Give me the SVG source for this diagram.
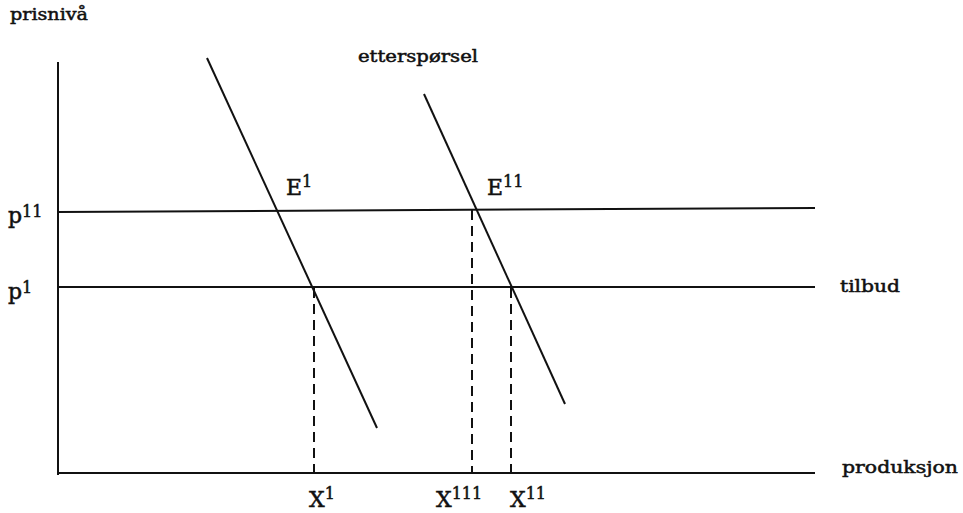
<svg xmlns="http://www.w3.org/2000/svg" width="963" height="513" viewBox="0 0 963 513">
<style>
.ln{stroke:#111;stroke-width:2;fill:none}
.dash{stroke:#111;stroke-width:2;fill:none;stroke-dasharray:10,6}
.t{font-family:"DejaVu Serif","Liberation Serif",serif;fill:#111;stroke:#111;stroke-width:0.5}
.s{font-size:17px}
.b{font-size:22px}
.sup{font-size:16px}
</style>
<rect width="963" height="513" fill="#fff"/>
<g id="connectors">
<line class="ln" x1="58" y1="62" x2="58" y2="475"/>
<line class="ln" x1="58" y1="473" x2="815" y2="473"/>
<line class="ln" x1="58" y1="212" x2="815" y2="208"/>
<line class="ln" x1="58" y1="287" x2="815" y2="287"/>
<line class="ln" x1="207" y1="58" x2="377" y2="428"/>
<line class="ln" x1="424" y1="94" x2="565" y2="404"/>
<line class="dash" x1="314" y1="288" x2="314" y2="473"/>
<line class="dash" x1="472" y1="210" x2="472" y2="473"/>
<line class="dash" x1="511" y1="288" x2="511" y2="473"/>
</g>
<g id="labels">
<text class="t s" x="10" y="20" textLength="78" lengthAdjust="spacingAndGlyphs">prisnivå</text>
<text class="t s" x="358" y="62" textLength="120" lengthAdjust="spacingAndGlyphs">etterspørsel</text>
<text class="t s" x="840" y="292" textLength="60" lengthAdjust="spacingAndGlyphs">tilbud</text>
<text class="t s" x="842" y="473" textLength="116" lengthAdjust="spacingAndGlyphs">produksjon</text>
<text class="t b" x="8" y="223">p<tspan class="sup" dy="-6">11</tspan></text>
<text class="t b" x="8" y="299">p<tspan class="sup" dy="-6">1</tspan></text>
<text class="t b" x="286" y="195">E<tspan class="sup" dy="-8">1</tspan></text>
<text class="t b" x="487" y="195">E<tspan class="sup" dy="-8">11</tspan></text>
<text class="t b" x="309" y="507">X<tspan class="sup" dy="-8">1</tspan></text>
<text class="t b" x="436" y="507">X<tspan class="sup" dy="-8">111</tspan></text>
<text class="t b" x="510" y="507">X<tspan class="sup" dy="-8">11</tspan></text>
</g>
</svg>
